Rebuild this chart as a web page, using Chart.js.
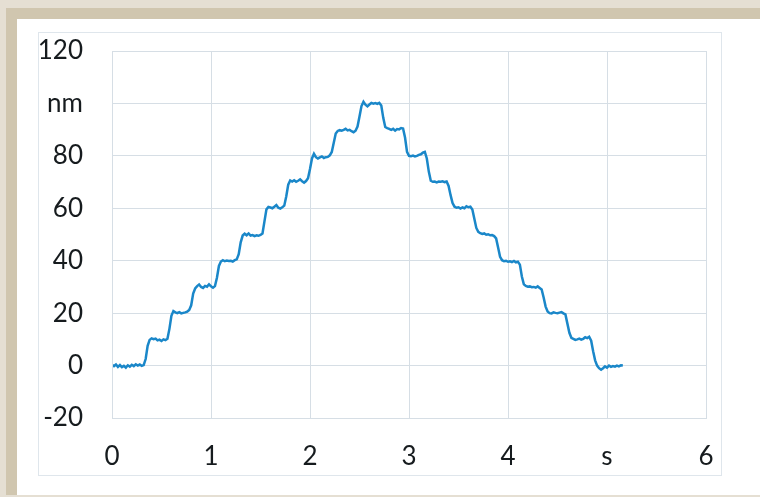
<!DOCTYPE html>
<html>
<head>
<meta charset="utf-8">
<script src="https://cdn.jsdelivr.net/npm/chart.js@4/dist/chart.umd.min.js"></script>
<style>
  html, body { margin: 0; padding: 0; }
  body { width: 760px; height: 497px; background: #e5dfd3; position: relative; overflow: hidden; }
  #band { position: absolute; left: 6px; top: 8px; width: 754px; height: 487px; background: #d0c6af; }
  #panel { position: absolute; left: 17px; top: 19px; width: 743px; height: 476px; background: #ffffff; }
  #box { position: absolute; left: 38px; top: 32px; width: 682px; height: 442px; border: 1px solid #dfe6ec; }
  #wrap { position: absolute; left: 0; top: 0; width: 682px; height: 442px; }
</style>
</head>
<body>
<div id="band"></div>
<div id="panel"></div>
<div id="box"><div id="wrap"><canvas id="c"></canvas></div></div>
<script>
// time in seconds
const times = [
  0.00,0.02,0.04,0.06,0.08,0.10,0.12,0.14,0.16,0.18,0.20,0.22,0.24,0.26,0.28,0.30,0.32,0.34,0.36,0.38,
  0.40,0.42,0.44,0.46,0.48,0.50,0.52,0.54,0.56,0.58,0.60,0.62,0.64,0.66,0.68,0.70,0.72,0.74,0.76,0.78,
  0.80,0.82,0.84,0.86,0.88,0.90,0.92,0.94,0.96,0.98,1.00,1.02,1.04,1.06,1.08,1.10,1.12,1.14,1.16,1.18,
  1.20,1.22,1.24,1.26,1.28,1.30,1.32,1.34,1.36,1.38,1.40,1.42,1.44,1.46,1.48,1.50,1.52,1.54,1.56,1.58,
  1.60,1.62,1.64,1.66,1.68,1.70,1.72,1.74,1.76,1.78,1.80,1.82,1.84,1.86,1.88,1.90,1.92,1.94,1.96,1.98,
  2.00,2.02,2.04,2.06,2.08,2.10,2.12,2.14,2.16,2.18,2.20,2.22,2.24,2.26,2.28,2.30,2.32,2.34,2.36,2.38,
  2.40,2.42,2.44,2.46,2.48,2.50,2.52,2.54,2.56,2.58,2.60,2.62,2.64,2.66,2.68,2.70,2.72,2.74,2.76,2.78,
  2.80,2.82,2.84,2.86,2.88,2.90,2.92,2.94,2.96,2.98,3.00,3.02,3.04,3.06,3.08,3.10,3.12,3.14,3.16,3.18,
  3.20,3.22,3.24,3.26,3.28,3.30,3.32,3.34,3.36,3.38,3.40,3.42,3.44,3.46,3.48,3.50,3.52,3.54,3.56,3.58,
  3.60,3.62,3.64,3.66,3.68,3.70,3.72,3.74,3.76,3.78,3.80,3.82,3.84,3.86,3.88,3.90,3.92,3.94,3.96,3.98,
  4.00,4.02,4.04,4.06,4.08,4.10,4.12,4.14,4.16,4.18,4.20,4.22,4.24,4.26,4.28,4.30,4.32,4.34,4.36,4.38,
  4.40,4.42,4.44,4.46,4.48,4.50,4.52,4.54,4.56,4.58,4.60,4.62,4.64,4.66,4.68,4.70,4.72,4.74,4.76,4.78,
  4.80,4.82,4.84,4.86,4.88,4.90,4.92,4.94,4.96,4.98,5.00,5.02,5.04,5.06,5.08,5.10,5.12,5.14,5.16
];
// displacement in nm
const displacement = [
  0.3,-0.2,0.4,-0.5,0.2,-0.6,-0.1,-0.8,0.1,-0.4,0.3,-0.2,0.5,0.0,0.4,-0.1,0.2,2.5,7.5,9.8,
  10.4,10.1,10.3,9.6,9.9,9.4,10.0,9.7,10.2,14.0,19.0,20.8,20.3,20.0,20.4,19.9,20.1,20.3,20.6,21.2,
  23.0,27.5,29.4,30.3,30.9,30.0,29.6,30.4,30.1,31.0,30.2,29.7,30.3,33.5,38.0,39.7,40.2,39.8,40.1,39.9,
  40.0,39.7,40.2,40.5,42.5,47.0,49.6,50.3,49.7,50.4,49.6,49.8,49.4,49.7,49.5,49.8,50.4,55.0,59.6,60.5,
  60.3,60.0,60.6,61.2,60.2,59.9,60.4,61.0,64.5,69.0,70.6,70.2,70.7,70.1,70.5,71.0,70.3,69.8,70.4,71.5,
  75.0,79.0,80.8,79.5,79.0,79.4,79.8,79.2,79.5,79.6,80.2,81.5,85.0,88.5,89.5,89.8,89.6,89.9,90.3,89.7,
  89.9,89.4,89.0,89.6,91.2,95.0,99.0,100.6,99.5,98.9,99.6,100.2,99.9,100.1,99.8,100.2,99.2,94.5,91.0,90.6,
  90.3,89.9,90.3,89.6,90.2,90.1,90.6,90.4,87.0,81.5,80.0,79.9,80.1,79.8,80.0,80.4,80.6,81.2,81.5,79.0,
  74.0,70.5,70.1,70.2,69.9,70.2,70.1,70.3,70.0,70.2,68.5,65.0,62.0,60.6,60.2,60.4,59.9,60.3,60.0,60.8,
  60.4,60.6,59.5,56.0,52.5,51.0,50.5,50.2,50.4,49.9,50.1,49.7,49.8,49.4,48.5,45.0,41.5,40.2,39.8,40.0,
  39.6,39.8,39.5,39.9,39.4,39.6,38.5,34.0,31.0,30.4,30.1,30.2,29.9,30.0,29.7,30.2,29.6,29.0,26.0,22.5,
  20.6,20.0,19.9,20.3,20.1,20.0,20.2,20.4,19.9,19.5,16.0,12.5,10.6,10.2,9.8,10.0,10.3,9.9,10.2,10.8,
  10.5,11.0,9.5,5.5,2.0,0.0,-1.0,-1.6,-1.0,-0.3,-0.8,0.0,-0.5,-0.2,-0.4,0.0,-0.3,0.1,0.0
];
// tick labels (value -> text)
const xTickValues = [0, 1, 2, 3, 4, 5, 6];
const xTickLabels = ["0", "1", "2", "3", "4", "s", "6"];
const yTickValues = [-20, 0, 20, 40, 60, 80, 100, 120];
const yTickLabels = ["-20", "0", "20", "40", "60", "80", "nm", "120"];

const points = times.map((t, i) => ({ x: t, y: displacement[i] }));
const gridColor = '#d6dee5';
const tickFont = { family: 'Lato', size: 26 };

new Chart(document.getElementById('c'), {
  type: 'line',
  data: {
    datasets: [{
      data: points,
      borderColor: '#1a87c9',
      borderWidth: 2.5,
      pointRadius: 0,
      tension: 0,
      fill: false
    }]
  },
  options: {
    responsive: true,
    maintainAspectRatio: false,
    animation: false,
    layout: { padding: { top: 18, right: 15, left: 0, bottom: 0 } },
    plugins: { legend: { display: false }, tooltip: { enabled: false } },
    scales: {
      x: {
        type: 'linear',
        min: 0, max: 6,
        afterFit: s => { s.height = 57; s.paddingLeft = 0; s.paddingRight = 0; },
        afterBuildTicks: s => { s.ticks = xTickValues.map(v => ({ value: v })); },
        ticks: {
          font: tickFont, color: '#161b1e', padding: 23,
          callback: v => xTickLabels[xTickValues.indexOf(v)]
        },
        grid: { color: gridColor, drawTicks: false, lineWidth: 1 },
        border: { display: true, color: gridColor }
      },
      y: {
        type: 'linear',
        min: -20, max: 120,
        afterFit: s => { s.width = 73; s.paddingTop = 0; s.paddingBottom = 0; },
        afterBuildTicks: s => { s.ticks = yTickValues.map(v => ({ value: v })); },
        ticks: {
          font: tickFont, color: '#161b1e', padding: 29,
          callback: v => yTickLabels[yTickValues.indexOf(v)]
        },
        grid: { color: gridColor, drawTicks: false, lineWidth: 1 },
        border: { display: true, color: gridColor }
      }
    }
  },
  plugins: [{
    id: 'frameRight',
    afterDraw(chart) {
      const a = chart.chartArea, ctx = chart.ctx;
      ctx.save();
      ctx.strokeStyle = gridColor; ctx.lineWidth = 1;
      ctx.strokeRect(Math.round(a.left) + 0.5, Math.round(a.top) + 0.5, Math.round(a.right - a.left), Math.round(a.bottom - a.top));
      ctx.restore();
    }
  }]
});
</script>
</body>
</html>
